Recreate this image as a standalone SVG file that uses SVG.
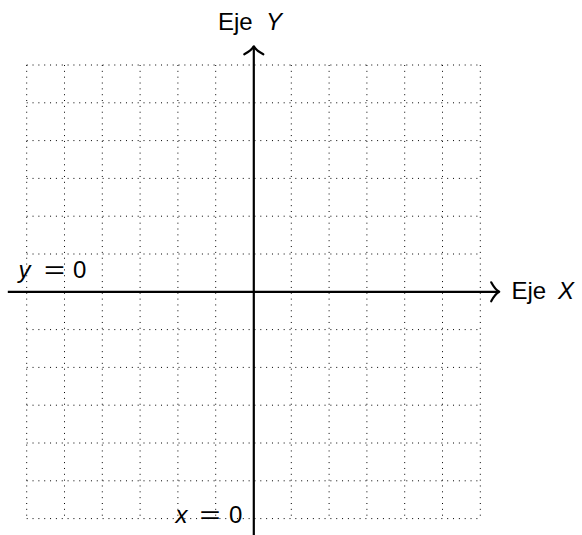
<svg xmlns="http://www.w3.org/2000/svg" width="582" height="535" viewBox="0 0 582 535">
  <style>
    .grid { fill: none; stroke: #000; stroke-width: 1; stroke-dasharray: 1 4.84; }
    .axis { fill: none; stroke: #000; stroke-width: 2.2; }
    .lbl { font-family: "Liberation Sans", Arial, sans-serif; font-size: 24px; fill: #000; }
    .it { font-style: italic; }
  </style>
  <defs>
    <marker id="arrow" viewBox="-11 -12 14 24" markerWidth="14" markerHeight="24" refX="0" refY="0" orient="auto" markerUnits="userSpaceOnUse">
      <path d="M -8,-9.5 Q -4,-2 0,0 Q -4,2 -8,9.5" fill="none" stroke="#000" stroke-width="2.2" stroke-linecap="round" stroke-linejoin="round"/>
    </marker>
  </defs>
  <rect width="582" height="535" fill="#fff"/>
  <g id="grid">
    <path class="grid" d="M26.7,65 H480.3 M26.7,102.8 H480.3 M26.7,140.6 H480.3 M26.7,178.4 H480.3 M26.7,216.2 H480.3 M26.7,254 H480.3 M26.7,291.8 H480.3 M26.7,329.6 H480.3 M26.7,367.4 H480.3 M26.7,405.2 H480.3 M26.7,443 H480.3 M26.7,480.8 H480.3 M26.7,518.6 H480.3"/>
    <path class="grid" d="M26.7,65 V518.6 M64.5,65 V518.6 M102.3,65 V518.6 M140.1,65 V518.6 M177.9,65 V518.6 M215.7,65 V518.6 M253.5,65 V518.6 M291.3,65 V518.6 M329.1,65 V518.6 M366.9,65 V518.6 M404.7,65 V518.6 M442.5,65 V518.6 M480.3,65 V518.6"/>
  </g>
  <g id="connectors">
    <line id="x-axis" class="axis" x1="7.8" y1="291.8" x2="499.2" y2="291.8" marker-end="url(#arrow)"/>
    <line id="y-axis" class="axis" x1="253.8" y1="537.5" x2="253.8" y2="46.3" marker-end="url(#arrow)"/>
  </g>
  <g id="label-eje-y">
    <text class="lbl" y="29.5"><tspan x="218">Eje</tspan><tspan class="it" x="266">Y</tspan></text>
  </g>
  <g id="label-eje-x">
    <text class="lbl" y="299.3"><tspan x="511.5">Eje</tspan><tspan class="it" x="558">X</tspan></text>
  </g>
  <g id="label-y0">
    <text class="lbl" y="277.7"><tspan class="it" x="18.5">y</tspan><tspan x="44" textLength="21" lengthAdjust="spacingAndGlyphs">=</tspan><tspan x="73">0</tspan></text>
  </g>
  <g id="label-x0">
    <text class="lbl" y="522.7"><tspan class="it" x="175.5">x</tspan><tspan x="199.5" textLength="21" lengthAdjust="spacingAndGlyphs">=</tspan><tspan x="229">0</tspan></text>
  </g>
</svg>
